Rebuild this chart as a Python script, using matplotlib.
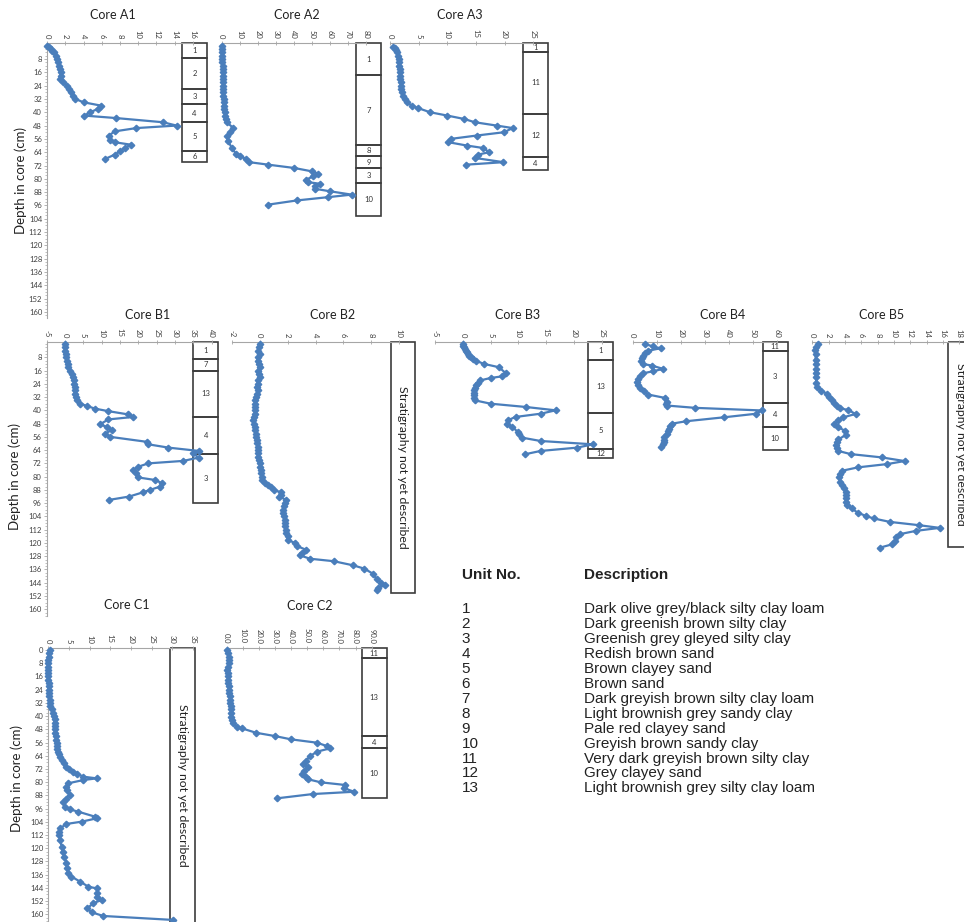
import numpy as np
import matplotlib
matplotlib.use("Agg")
import matplotlib.pyplot as plt
from matplotlib.patches import Rectangle
from matplotlib.ticker import MultipleLocator, FormatStrFormatter

plt.rcParams['font.family'] = ['Lato', 'DejaVu Sans']

# ---- core profiles: depth in cm, measured value ----
a1_depth = [0, 1, 2, 3, 4, 6, 8, 10, 12, 14, 16, 18, 20, 22, 24, 26, 28, 30, 32, 34, 36, 38, 40, 42,
            43.5, 46, 48, 49.5, 51.5, 54, 56.5, 58, 59.5, 61.5, 63.5, 65.5, 68]
a1_val = [0, 0.2, 0.4, 0.6, 0.8, 1.0, 1.1, 1.2, 1.3, 1.4, 1.5, 1.5, 1.4, 1.8, 2.2, 2.4, 2.6, 2.8, 3.1, 4.0,
          5.9, 5.6, 4.7, 4.1, 7.6, 12.7, 14.2, 9.8, 7.4, 6.8, 6.9, 7.4, 9.2, 8.5, 8.0, 7.4, 6.4]

a2_depth = [0, 2, 4, 6, 8, 10, 12, 14, 16, 18, 20, 22, 24, 26, 28, 30, 32, 34, 36, 38, 40, 42, 44, 46,
            49.5, 52, 54.5, 57.5, 61.5, 65, 66.5, 68, 70, 71.5, 73.5, 75.5, 77, 78.5, 80.5, 82, 83,
            84.5, 86, 87.5, 89.5, 91, 93, 95.5]
a2_val = [0, 0.1, 0.2, 0.3, 0.4, 0.4, 0.5, 0.5, 0.6, 0.6, 0.7, 0.7, 0.8, 0.8, 0.9, 0.9, 1.0, 1.1, 1.2,
          1.4, 1.6, 1.9, 2.3, 2.8, 6.5, 4.6, 2.8, 3.7, 5.6, 8.0, 10.2, 13.5, 15.4, 25.9, 40.4, 50.0,
          53.7, 50.9, 46.9, 48.1, 54.6, 51.9, 51.9, 60.2, 72.2, 59.3, 41.7, 25.9]

a3_depth = [0.5, 1.5, 2.5, 4, 6, 8, 10, 12, 14, 16, 18, 20, 22, 24, 26, 28, 30, 32, 34, 36, 37.5, 40,
            42, 44, 46, 48, 49.5, 52, 54, 56, 58, 60, 61.5, 64, 65.5, 67.5, 70, 71.5]
a3_val = [0.6, 0.8, 1.0, 1.2, 1.4, 1.5, 1.6, 1.6, 1.7, 1.7, 1.8, 1.8, 1.9, 1.9, 2.0, 2.1, 2.3, 2.6, 2.9,
          3.8, 4.9, 7.0, 10.0, 12.9, 14.8, 18.6, 21.4, 19.9, 15.1, 10.6, 10.2, 13.4, 16.3, 17.3, 15.3,
          14.9, 19.8, 13.3]

b1_depth = [0, 2, 4, 6, 8, 10, 12, 14, 16, 18, 20, 22, 24, 26, 28, 30, 32, 34, 36, 37.5, 39, 40.5,
            42.5, 44, 45.5, 48.5, 50, 52, 54, 56, 59, 60.5, 62.5, 64.5, 66, 68.5, 70.5, 72, 74, 76, 78,
            80.5, 82, 84, 86, 88, 89.5, 92, 94]
b1_val = [0, 0.1, 0.1, 0.2, 0.3, 0.5, 0.7, 0.9, 1.4, 1.9, 2.3, 2.5, 2.5, 2.6, 2.6, 2.7, 2.9, 3.3, 4.2,
          6.1, 8.2, 11.8, 17.3, 18.6, 11.8, 9.5, 11.4, 12.7, 10.9, 12.3, 22.3, 22.7, 28.2, 36.5, 35.0,
          36.4, 32.3, 22.7, 20.0, 18.6, 19.4, 20.0, 24.5, 26.5, 25.9, 23.2, 21.2, 17.5, 12.1]

b2_depth = [0, 2, 4, 6, 8, 10, 12, 14, 16, 18, 20, 22, 24, 26, 28, 30, 32, 34, 36, 38, 40, 42, 44, 46,
            48, 50, 52, 54, 56, 58, 60, 62, 64, 66, 68, 70, 72, 74, 76, 78,
            80, 82, 84, 85, 86.5, 88, 89.5, 91, 92, 94, 96, 98, 100, 102, 104, 106, 108, 110, 112, 114,
            116, 118, 120, 122, 124, 126, 127.5, 129.5, 131, 133.5, 135.5, 138.5, 142, 144, 145.5,
            147, 148.5]
b2_val = [0, -0.05, -0.1, 0, -0.1, -0.15, -0.05, 0, -0.1, -0.05, 0, -0.1, -0.15, -0.2, -0.15, -0.2,
          -0.25, -0.3, -0.3, -0.35, -0.3, -0.35, -0.4, -0.5, -0.4, -0.3, -0.3, -0.25, -0.25, -0.2,
          -0.2, -0.15, -0.15, -0.1, -0.1, -0.05, 0, 0.05, 0.1, 0.1,
          0.15, 0.15, 0.4, 0.6, 0.8, 1.0, 1.55, 1.5, 1.4, 1.9, 1.8, 1.75, 1.7, 1.7, 1.75, 1.8, 1.8,
          1.85, 1.9, 1.9, 2.0, 2.0, 2.5, 2.7, 3.3, 3.0, 2.9, 3.6, 5.3, 6.7, 7.5, 8.1, 8.4, 8.7, 9.0,
          8.5, 8.4]

b3_depth = [0, 1, 2, 3, 4, 5, 6, 7, 8, 9, 10, 12, 14, 17.5, 19.5, 20.5, 22, 23.5, 25, 26.5, 28, 29.5,
            31, 32.5, 34, 36, 38, 40, 42, 44, 46, 48, 50, 53, 54.5, 56.5, 58.5, 60.5, 62.5, 64.5, 66.5]
b3_val = [0, 0.1, 0.2, 0.35, 0.5, 0.7, 0.9, 1.2, 1.5, 1.9, 2.3, 3.8, 6.5, 7.7, 7.1, 5.0, 3.1, 2.7,
          2.4, 2.2, 2.1, 2.0, 2.0, 2.0, 2.2, 5.0, 11.4, 16.7, 14.1, 9.5, 8.1, 7.9, 8.9, 9.9, 10.1,
          10.7, 14.0, 23.4, 20.6, 14.0, 11.2]

b4_depth = [0, 1.5, 2.6, 4, 5.5, 7, 8.5, 10, 12, 13, 15, 16.5, 17.7, 19.5, 21, 23, 25, 26.5, 28.5,
            30.5, 32.5, 34.7, 36, 37.1, 38.5, 40.1, 42.1, 44.2, 46.6, 48.1, 49.5, 51.1, 52.5, 54.3,
            56.3, 58, 59.3, 60.3, 62.3]
b4_val = [5.1, 8.5, 11.6, 6.5, 5.2, 4.4, 3.8, 3.3, 4.2, 7.9, 12.7, 8.3, 4.2, 3.0, 2.4, 1.7, 2.2, 3.0,
          4.5, 6.5, 13.4, 14.1, 14.0, 14.1, 25.9, 54.0, 51.2, 38.1, 22.2, 16.2, 15.5, 15.2, 14.6,
          14.1, 13.2, 13.0, 13.2, 12.7, 11.6]

b5_depth = [0, 2, 3.6, 6, 9.6, 12, 15, 17.7, 20, 23.7, 26.1, 28.1, 30.1, 32, 33.8, 35.5, 37.4, 38.8,
            39.8, 42.2, 44.2, 46, 48.3, 50.3, 52.3, 54.9, 57.5, 59, 61, 62.5, 64.4, 66.4, 68.4, 70.6,
            72.4, 74.4, 76.5, 78.5, 80.5, 83, 85.1, 87, 89.1, 91, 93.1, 95, 97.1, 99.2, 101.8, 103.8,
            105.2, 107.3, 109.3, 110.9, 112.7, 114.7, 116.7, 118.8, 120.8, 122.8]
b5_val = [0.7, 0.4, 0.3, 0.4, 0.4, 0.5, 0.5, 0.5, 0.5, 0.45, 0.6, 1.1, 1.8, 2.1, 2.4, 2.7, 3.0, 3.4,
          4.4, 5.3, 3.8, 3.2, 2.7, 3.2, 4.0, 4.1, 3.2, 3.0, 2.9, 3.0, 3.1, 4.7, 8.5, 11.3, 9.2, 5.6,
          3.6, 3.4, 3.3, 3.4, 3.6, 3.9, 4.1, 4.1, 4.1, 4.1, 4.2, 4.8, 5.6, 6.6, 7.5, 9.5, 13.1, 15.6,
          12.7, 10.7, 10.3, 10.1, 9.8, 8.3]

c1_depth = [0, 2, 4, 6, 8, 10, 12, 14, 16, 18, 20, 22, 24, 26, 28, 30, 32, 34, 36, 38, 40, 42, 44, 46,
            48, 50, 52, 54.5, 56, 58, 60, 61.5, 63, 65, 66.6, 68.5, 70.6, 72, 73.6, 75, 76.7, 77.7,
            78.7, 80.7, 82.7, 85, 87.8, 90, 91.8, 94.8, 96.5, 97.9, 100.9, 101.9, 103.9, 105.3, 108,
            110, 112, 115, 119, 122, 125, 129.1, 132, 135.2, 137.2, 140.2, 143.3, 144.3, 147, 149.3,
            151.3, 153.3, 156.4, 158.8, 161, 163.4]
c1_val = [0.4, 0.2, 0.1, 0, 0, 0, 0, 0, 0, 0, 0.05, 0.1, 0.1, 0.15, 0.2, 0.3, 0.4, 0.5, 0.8, 1.1, 1.4,
          1.5, 1.5, 1.6, 1.6, 1.7, 1.8, 1.9, 2.0, 2.1, 2.2, 2.4, 2.6, 2.9, 3.2, 3.7, 4.4, 5.0, 6.0,
          7.0, 8.5, 11.7, 8.5, 4.8, 4.4, 4.6, 5.2, 4.2, 3.6, 4.0, 5.2, 7.3, 11.3, 11.7, 8.1, 4.4, 2.8,
          2.7, 2.7, 2.9, 3.2, 3.5, 3.9, 4.4, 4.6, 4.8, 5.6, 7.7, 9.7, 11.7, 11.8, 11.9, 12.9, 10.9,
          9.4, 10.5, 13.3, 30.2]

c2_depth = [0, 2, 4, 6, 8, 10, 12, 14, 16, 18, 20, 22, 24, 26, 28, 30, 32, 34, 36, 38, 40.4, 42.5,
            44.4, 46.4, 47.4, 50.1, 52.1, 54.1, 56.1, 58.1, 59.5, 61.5, 64.1, 67, 69, 71, 73, 75.1,
            77.1, 78.3, 80.1, 81.7, 83.7, 85.8, 87.2, 89.8]
c2_val = [0, 1.0, 1.3, 1.7, 1.2, 0.8, 0.4, 0.6, 0.8, 0.9, 1.0, 1.2, 1.4, 1.6, 1.8, 2.1, 2.3, 2.4, 2.5,
          2.6, 2.7, 3.3, 4.1, 6.2, 9.3, 18.2, 30.0, 40.0, 55.9, 62.1, 64.2, 56.3, 51.8, 49.3, 47.2,
          50.7, 48.0, 46.6, 49.3, 50.7, 58.4, 73.5, 72.9, 79.1, 53.4, 31.1]

# ---- stratigraphic units (depth boundaries in cm, unit numbers) ----
a1_bounds = [-1.6, 7.5, 26, 35, 46, 63, 70]
a1_units = ['1', '2', '3', '4', '5', '6']
a2_bounds = [-1.6, 17.8, 59.9, 66.5, 73.5, 82.5, 102.5]
a2_units = ['1', '7', '8', '9', '3', '10']
a3_bounds = [-1.6, 3.6, 41.2, 66.6, 74.6]
a3_units = ['1', '11', '12', '4']
b1_bounds = [-1.2, 9.2, 16.1, 44.2, 66.3, 95.7]
b1_units = ['1', '7', '13', '4', '3']
b3_bounds = [-1.2, 9.6, 41.4, 63.5, 68.9]
b3_units = ['1', '13', '5', '12']
b4_bounds = [-1.2, 4.0, 35.4, 49.9, 63.9]
b4_units = ['11', '3', '4', '10']
c2_bounds = [-1.2, 5.0, 52.1, 59.5, 89.8]
c2_units = ['11', '13', '4', '10']
b2_bounds = [-1.2, 150.4]
b5_bounds = [-1.2, 122.6]
c1_bounds = [-1.2, 166]
no_strat = 'Stratigraphy not yet described'

unit_no = [str(i) for i in range(1, 14)]
unit_desc = ['Dark olive grey/black silty clay loam', 'Dark greenish brown silty clay',
             'Greenish grey gleyed silty clay', 'Redish brown sand', 'Brown clayey sand',
             'Brown sand', 'Dark greyish brown silty clay loam', 'Light brownish grey sandy clay',
             'Pale red clayey sand', 'Greyish brown sandy clay', 'Very dark greyish brown silty clay',
             'Grey clayey sand', 'Light brownish grey silty clay loam']

W, H = 964, 922
BLUE = '#4a7ebb'
GREY = '#a6a6a6'
TXT = '#404040'

# row geometry in pixels: axis top, axis bottom, y of depth 0, px per cm
ROWS = {'A': (43, 318, 45.7, 1.664),
        'B': (342, 616, 344, 1.658),
        'C': (648, 922, 650, 1.652)}

fig = plt.figure(figsize=(W / 100, H / 100), dpi=100)


def px_axes(left, top, right, bottom):
    ax = fig.add_axes([left / W, 1 - bottom / H, (right - left) / W, (bottom - top) / H])
    ax.set_facecolor('none')
    return ax


def depth_lim(row):
    top, bottom, d0, s = ROWS[row]
    return (bottom - d0) / s, (top - d0) / s


def unit_box(row, xpx, bounds, labels=None, text=None):
    top, bottom, _, _ = ROWS[row]
    ax = px_axes(xpx[0], top, xpx[1], bottom)
    ax.set_xlim(0, 1)
    ax.set_ylim(*depth_lim(row))
    ax.axis('off')
    n = len(bounds) - 1
    for i in range(n):
        ax.add_patch(Rectangle((0, bounds[i]), 1, bounds[i + 1] - bounds[i], fill=False,
                               ec='#3c3c3c', lw=1.2, clip_on=False))
        if labels:
            ax.text(0.5, (bounds[i] + bounds[i + 1]) / 2, labels[i], ha='center', va='center',
                    fontsize=5.5 if bounds[i + 1] - bounds[i] > 5 else 4, color='#333333',
                    clip_on=False)
    if text:
        ax.text(0.5, (bounds[0] + min(bounds[1], depth_lim(row)[0])) / 2, text, rotation=-90,
                ha='center', va='center', fontsize=8.8, color='#222222')


def core_panel(row, xpx, title, title_xy, depth, vals, xr, step, fmt='%g', depth_axis=False):
    top, bottom, _, _ = ROWS[row]
    ax = px_axes(xpx[0], top, xpx[1], bottom)
    ax.plot(vals, depth, color=BLUE, lw=1.6, marker='D', ms=3.3, mec=BLUE, mfc=BLUE,
            clip_on=False, zorder=5)
    ax.set_xlim(*xr)
    ax.set_ylim(*depth_lim(row))
    ax.xaxis.tick_top()
    ax.set_xticks(np.arange(xr[0], xr[1] + step / 2, step))
    ax.xaxis.set_major_formatter(FormatStrFormatter(fmt))
    ax.tick_params(axis='x', labelrotation=-90, labelsize=5.5, labelcolor=TXT, color=GREY,
                   length=2.5, width=0.6, direction='inout', pad=2)
    for side in ('right', 'bottom'):
        ax.spines[side].set_visible(False)
    ax.spines['top'].set_color(GREY)
    ax.spines['top'].set_linewidth(0.8)
    if depth_axis:
        ax.spines['left'].set_color(GREY)
        ax.spines['left'].set_linewidth(0.8)
        first = 0 if row == 'C' else 8
        ax.set_yticks(np.arange(first, 161, 8))
        ax.yaxis.set_minor_locator(MultipleLocator(2))
        ax.tick_params(axis='y', which='major', labelsize=5.5, labelcolor=TXT, color=GREY,
                       length=2, width=0.6, pad=1.5)
        ax.tick_params(axis='y', which='minor', color=GREY, length=1.2, width=0.5)
    else:
        ax.spines['left'].set_visible(False)
        ax.set_yticks([])
    fig.text(title_xy[0] / W, 1 - title_xy[1] / H, title, ha='center', va='center',
             fontsize=9, color='#222222')
    return ax


# stratigraphy columns first so the profiles sit on top of them
unit_box('A', (182, 207), a1_bounds, a1_units)
unit_box('A', (356, 381), a2_bounds, a2_units)
unit_box('A', (523, 548), a3_bounds, a3_units)
unit_box('B', (193.3, 218.3), b1_bounds, b1_units)
unit_box('B', (390.7, 415), b2_bounds, text=no_strat)
unit_box('B', (587.7, 613.3), b3_bounds, b3_units)
unit_box('B', (762.7, 787.7), b4_bounds, b4_units)
unit_box('B', (947.7, 972.7), b5_bounds, text=no_strat)
unit_box('C', (170, 195), c1_bounds, text=no_strat)
unit_box('C', (361.7, 386.7), c2_bounds, c2_units)

core_panel('A', (47, 193), 'Core A1', (113, 15), a1_depth, a1_val, (0, 16), 2, depth_axis=True)
core_panel('A', (221.7, 365.7), 'Core A2', (297, 15), a2_depth, a2_val, (0, 80), 10)
core_panel('A', (390, 533.3), 'Core A3', (460, 15), a3_depth, a3_val, (0, 25), 5)
core_panel('B', (46.7, 211.7), 'Core B1', (148, 315), b1_depth, b1_val, (-5, 40), 5, depth_axis=True)
core_panel('B', (231.7, 399.3), 'Core B2', (333, 315), b2_depth, b2_val, (-2, 10), 2)
core_panel('B', (435, 601.7), 'Core B3', (518, 315), b3_depth, b3_val, (-5, 25), 5)
core_panel('B', (632.7, 776.7), 'Core B4', (723, 315), b4_depth, b4_val, (0, 60), 10)
core_panel('B', (812.3, 959.3), 'Core B5', (882, 315), b5_depth, b5_val, (0, 18), 2)
core_panel('C', (48.3, 193), 'Core C1', (127, 605), c1_depth, c1_val, (0, 35), 5, depth_axis=True)
core_panel('C', (226.7, 371.7), 'Core C2', (310, 606), c2_depth, c2_val, (0, 90), 10, fmt='%.1f')

for x, y in [(21, 180), (15, 477), (17, 778)]:
    fig.text(x / W, 1 - y / H, 'Depth in core (cm)', rotation=90, ha='center', va='center',
             fontsize=9.5, color='#222222')

# unit key
key_font = ['Liberation Sans', 'DejaVu Sans']
fig.text(461.7 / W, 1 - 575 / H, 'Unit No.', fontsize=11, fontweight='bold', family=key_font,
         va='center', color='#222222')
fig.text(584 / W, 1 - 575 / H, 'Description', fontsize=11, fontweight='bold', family=key_font,
         va='center', color='#222222')
for i, (num, desc) in enumerate(zip(unit_no, unit_desc)):
    y = 1 - (609.3 + i * 14.92) / H
    fig.text(461.7 / W, y, num, fontsize=11, family=key_font, va='center', color='#222222')
    fig.text(584 / W, y, desc, fontsize=11, family=key_font, va='center', color='#222222')

fig.savefig('out.png', dpi=100, facecolor='white')
